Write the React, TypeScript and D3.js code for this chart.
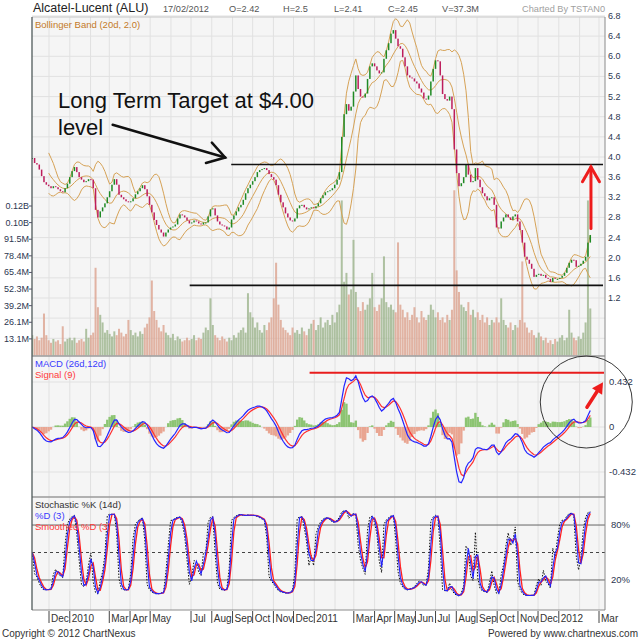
import { useEffect, useRef } from "react";
import * as d3 from "d3";

// ── data: one sample every 3.5 days, 6 Nov 2009 → 17 Feb 2012 ─────────
const SAMPLE_START = new Date(2009, 10, 6);
const SAMPLE_STEP_DAYS = 3.5;

const closes = [
  3.98, 3.88, 3.85, 3.75, 3.62, 3.5, 3.45, 3.42, 3.38, 3.42,
  3.4, 3.36, 3.32, 3.3, 3.38, 3.47, 3.6, 3.72, 3.8, 3.7,
  3.6, 3.55, 3.5, 3.52, 3.56, 3.55, 3.38, 2.95, 2.8, 2.92,
  3.0, 3.08, 3.2, 3.32, 3.45, 3.56, 3.45, 3.25, 3.2, 3.16,
  3.12, 3.1, 3.12, 3.18, 3.26, 3.32, 3.38, 3.44, 3.36, 3.22,
  3.05, 2.9, 2.75, 2.65, 2.56, 2.5, 2.42, 2.5, 2.56, 2.6,
  2.62, 2.66, 2.78, 2.86, 2.84, 2.8, 2.74, 2.68, 2.7, 2.74,
  2.72, 2.68, 2.66, 2.7, 2.7, 2.82, 2.96, 2.98, 2.84, 2.72,
  2.66, 2.64, 2.62, 2.56, 2.6, 2.76, 2.84, 2.92, 3.0, 3.05,
  3.15, 3.28, 3.38, 3.45, 3.52, 3.6, 3.7, 3.74, 3.76, 3.78,
  3.74, 3.66, 3.6, 3.55, 3.44, 3.25, 3.1, 3.0, 2.88, 2.8,
  2.74, 2.72, 2.78, 2.98, 3.04, 3.05, 3.0, 2.96, 2.98, 3.0,
  2.98, 3.02, 3.08, 3.18, 3.24, 3.3, 3.32, 3.34, 3.38, 3.45,
  3.55, 3.7, 4.4, 4.85, 5.05, 4.92, 5.0, 5.3, 5.62, 5.35,
  5.2, 5.18, 5.26, 5.55, 5.8, 5.86, 5.8, 5.72, 5.66, 5.68,
  5.95, 6.12, 6.26, 6.45, 6.52, 6.35, 6.2, 6.15, 5.98, 5.8,
  5.62, 5.58, 5.56, 5.5, 5.46, 5.36, 5.28, 5.16, 5.14, 5.22,
  5.5, 5.75, 5.92, 5.9, 5.62, 5.25, 5.15, 5.12, 5.2, 4.95,
  4.15, 3.68, 3.42, 3.48, 3.6, 3.85, 3.65, 3.5, 3.52, 3.78,
  3.55, 3.4, 3.28, 3.22, 3.14, 3.18, 3.2, 3.05, 2.6, 2.58,
  2.72, 2.8, 2.86, 2.8, 2.75, 2.82, 2.86, 2.72, 2.55, 2.3,
  2.02, 1.96, 1.88, 1.78, 1.62, 1.66, 1.68, 1.64, 1.66, 1.6,
  1.58, 1.52, 1.6, 1.58, 1.58, 1.6, 1.64, 1.7, 1.8, 1.9,
  1.96, 1.95, 1.82, 1.84, 1.88, 1.94, 2.02, 2.3, 2.45,
];

// volume, millions of shares
const volumes = [
  16, 13, 15, 12, 14, 33, 16, 12, 10, 13,
  11, 12, 9, 23, 11, 13, 14, 12, 14, 10,
  12, 13, 11, 21, 14, 16, 18, 69, 38, 32,
  26, 18, 20, 17, 15, 19, 16, 21, 18, 15,
  17, 28, 20, 16, 18, 15, 19, 17, 22, 25,
  30, 59, 35, 28, 22, 19, 24, 18, 16, 14,
  17, 12, 15, 13, 11, 12, 14, 12, 13, 16,
  12, 14, 13, 18, 22, 20, 45, 24, 16, 14,
  12, 15, 13, 11, 14, 12, 16, 14, 18, 20,
  22, 18, 49, 34, 30, 22, 26, 20, 18, 24,
  20, 26, 30, 45, 73, 40, 28, 22, 20, 18,
  16, 22, 18, 20, 17, 22, 19, 16, 21, 25,
  28, 20, 24, 30, 22, 26, 28, 24, 32, 26,
  34, 40, 122, 58, 65, 48, 52, 91, 50, 38,
  35, 42, 36, 40, 45, 65, 38, 35, 40, 45,
  78, 42, 38, 40, 36, 34, 89, 40, 36, 30,
  34, 28, 32, 38, 30, 26, 35, 30, 28, 32,
  40, 36, 30, 34, 28, 30, 26, 32, 28, 36,
  130, 67, 50, 40, 38, 35, 42, 32, 36, 30,
  34, 28, 32, 26, 30, 24, 28, 26, 30, 26,
  45, 28, 24, 22, 26, 20, 24, 22, 28, 74,
  26, 22, 18, 20, 16, 14, 18, 15, 12, 14,
  10, 12, 9, 13, 11, 14, 16, 12, 14, 36,
  18, 14, 12, 15, 13, 18, 26, 122, 37,
];

// Dec 2009 … Mar 2012, blank = month not labelled
const monthLabels = [
  "Dec", "2010", "", "Mar", "Apr", "May", "", "Jul", "Aug", "Sep", "Oct", "Nov", "Dec",
  "2011", "", "Mar", "Apr", "May", "Jun", "Jul", "Aug", "Sep", "Oct", "Nov", "Dec",
  "2012", "", "Mar",
];

const priceTicks = [6.8, 6.4, 6.0, 5.6, 5.2, 4.8, 4.4, 4.0, 3.6, 3.2, 2.8, 2.4, 2.0, 1.6, 1.2];
const priceGridOnly = [0.8, 0.4];
const volumeTicks = [13.07, 26.14, 39.21, 52.28, 65.35, 78.42, 91.49, 104.56, 117.63];
const volumeTickLabels = ["13.1M", "26.1M", "39.2M", "52.3M", "65.4M", "78.4M", "91.5M", "0.10B", "0.12B"];
const macdTicks = [0.432, 0, -0.432];
const macdTickLabels = ["0.432", "0", "-0.432"];
const stochTicks = [80, 20];
const stochTickLabels = ["80%", "20%"];

const headerTexts = ["17/02/2012", "O=2.42", "H=2.5", "L=2.41", "C=2.45", "V=37.3M"];

// drawn-in annotations (trend levels)
const targetLevels = [3.85, 1.45];
const targetStarts = [new Date(2010, 7, 30), new Date(2010, 5, 29)];
const targetEnd = new Date(2012, 2, 7);
const macdLevel = 0.52;
const macdLevelStart = new Date(2010, 11, 25);

const sampleDate = (i: number) => new Date(SAMPLE_START.getTime() + i * SAMPLE_STEP_DAYS * 864e5);

function ema(values: number[], period: number) {
  const a = 2 / (period + 1);
  const out: number[] = [];
  values.forEach((v, i) => out.push(i === 0 ? v : a * v + (1 - a) * out[i - 1]));
  return out;
}

const sma2 = (v: number[]) => v.map((d, i) => (i === 0 ? d : (d + v[i - 1]) / 2));

export default function App() {
  const svgRef = useRef<SVGSVGElement>(null);

  useEffect(() => {
    if (!svgRef.current) return;
    const svg = d3.select(svgRef.current);
    svg.selectAll("*").remove();

    const FONT = "'Liberation Sans', Arial, sans-serif";
    const L = 32, R = 605;
    const P_TOP = 17, V_BOT = 356, M_BOT = 497, S_BOT = 610;
    const perSample = 2.5;  // trading days per sample
    const HIST_GAIN = 2;    // histogram drawn enlarged, as on the source chart
    const DAY_RANGE = 0.015; // closes only: intraday high/low taken as ±1.5%

    const x = d3.scaleTime().domain([new Date(2009, 11, 1), new Date(2012, 2, 1)]).range([49, 599]);
    const yP = d3.scaleLinear().domain([1.2, 6.8]).range([298, 16]);
    const yV = d3.scaleLinear().domain([0, 117.63]).range([355.5, 206]);
    const yM = d3.scaleLinear().domain([-0.432, 0.432]).range([472, 382]);
    const yS = d3.scaleLinear().domain([0, 100]).range([598.3, 506.7]);

    const dates = closes.map((_, i) => sampleDate(i));

    // ── indicators ──────────────────────────────────────
    const bbN = Math.round(20 / perSample);
    const bb = closes.map((_, i) => {
      if (i < bbN - 1) return null;
      const w = closes.slice(i - bbN + 1, i + 1);
      const m = d3.mean(w)!;
      const sd = Math.sqrt(d3.mean(w, v => (v - m) ** 2)!);
      return { m, up: m + 2 * sd, lo: m - 2 * sd };
    });
    const fast = ema(closes, 12 / perSample);
    const slow = ema(closes, 26 / perSample);
    const macd = closes.map((_, i) => fast[i] - slow[i]);
    const signal = ema(macd, 9 / perSample);
    const hist = macd.map((v, i) => v - signal[i]);

    const kN = 6;
    const pctK = closes.map((c, i) => {
      const w = closes.slice(Math.max(0, i - kN + 1), i + 1);
      const lo = d3.min(w)! * (1 - DAY_RANGE), hi = d3.max(w)! * (1 + DAY_RANGE);
      return ((c - lo) / (hi - lo)) * 100;
    });
    const pctD = sma2(pctK);
    const smD = sma2(pctD);

    // ── frame ───────────────────────────────────────────
    const defs = svg.append("defs");
    const clip = (id: string, y0: number, y1: number) =>
      defs.append("clipPath").attr("id", id).append("rect")
        .attr("x", L).attr("y", y0).attr("width", R - L).attr("height", y1 - y0);
    clip("clipP", P_TOP, V_BOT);
    clip("clipM", V_BOT, M_BOT);
    clip("clipS", M_BOT, S_BOT);

    svg.append("rect").attr("x", L).attr("y", P_TOP).attr("width", R - L).attr("height", S_BOT - P_TOP)
      .attr("fill", "#f5f5f5");

    const months = d3.timeMonth.range(new Date(2009, 11, 1), new Date(2012, 2, 2));
    const grid = svg.append("g").attr("stroke", "#e1e1e1").attr("stroke-width", 1);
    months.forEach(m => {
      grid.append("line").attr("x1", x(m)).attr("x2", x(m)).attr("y1", P_TOP).attr("y2", S_BOT);
    });
    [...priceTicks, ...priceGridOnly].forEach(p => {
      grid.append("line").attr("x1", L).attr("x2", R).attr("y1", yP(p)).attr("y2", yP(p));
    });
    macdTicks.forEach(v => {
      grid.append("line").attr("x1", L).attr("x2", R).attr("y1", yM(v)).attr("y2", yM(v));
    });

    // ── volume ──────────────────────────────────────────
    const gP = svg.append("g").attr("clip-path", "url(#clipP)");
    volumes.forEach((v, i) => {
      const up = i === 0 || closes[i] >= closes[i - 1];
      gP.append("rect")
        .attr("x", x(dates[i]) - 1).attr("width", 2)
        .attr("y", yV(v)).attr("height", yV(0) - yV(v))
        .attr("fill", up ? "#9cb48c" : "#dca28e").attr("opacity", 0.8);
    });

    // ── bollinger ───────────────────────────────────────
    const bbIdx = d3.range(bbN - 1, closes.length);
    const bbLine = (key: "m" | "up" | "lo") =>
      d3.line<number>().x(i => x(dates[i])).y(i => yP(bb[i]![key]))(bbIdx);
    (["up", "m", "lo"] as const).forEach(k => {
      gP.append("path").attr("d", bbLine(k)).attr("fill", "none")
        .attr("stroke", "#d6a256").attr("stroke-width", 1);
    });

    // ── candles ─────────────────────────────────────────
    closes.forEach((c, i) => {
      const o = i === 0 ? c : closes[i - 1];
      const top = yP(Math.max(o, c)), bot = yP(Math.min(o, c));
      gP.append("rect")
        .attr("x", x(dates[i]) - 0.75).attr("width", 1.5)
        .attr("y", top).attr("height", Math.max(1, bot - top))
        .attr("fill", c >= o ? "#1f8a24" : "#bd1d5c");
    });

    // ── MACD ────────────────────────────────────────────
    const gM = svg.append("g").attr("clip-path", "url(#clipM)");
    hist.forEach((h, i) => {
      const hv = h * HIST_GAIN;
      gM.append("rect")
        .attr("x", x(dates[i]) - 1.2).attr("width", 2.4)
        .attr("y", Math.min(yM(hv), yM(0))).attr("height", Math.abs(yM(hv) - yM(0)))
        .attr("fill", h >= 0 ? "#8cc472" : "#e9a591");
    });
    const mLine = d3.line<number>().x((_, i) => x(dates[i])).y(v => yM(v));
    gM.append("path").attr("d", mLine(signal)).attr("fill", "none").attr("stroke", "#ff3030").attr("stroke-width", 1.2);
    gM.append("path").attr("d", mLine(macd)).attr("fill", "none").attr("stroke", "#2424ff").attr("stroke-width", 1.2);

    // ── stochastic ──────────────────────────────────────
    const gS = svg.append("g").attr("clip-path", "url(#clipS)");
    stochTicks.forEach(v => {
      gS.append("line").attr("x1", L).attr("x2", R).attr("y1", yS(v)).attr("y2", yS(v))
        .attr("stroke", "#666").attr("stroke-width", 1);
    });
    gS.append("line").attr("x1", L).attr("x2", R).attr("y1", yS(50)).attr("y2", yS(50))
      .attr("stroke", "#444").attr("stroke-dasharray", "3,3");
    const sLine = d3.line<number>().x((_, i) => x(dates[i])).y(v => yS(v));
    gS.append("path").attr("d", sLine(pctK)).attr("fill", "none").attr("stroke", "#111")
      .attr("stroke-width", 1).attr("stroke-dasharray", "1.5,1.5");
    gS.append("path").attr("d", sLine(smD)).attr("fill", "none").attr("stroke", "#ff2020").attr("stroke-width", 1.3);
    gS.append("path").attr("d", sLine(pctD)).attr("fill", "none").attr("stroke", "#2222ff").attr("stroke-width", 1.1);

    // ── borders ─────────────────────────────────────────
    const border = svg.append("g");
    border.append("line").attr("x1", L).attr("x2", R).attr("y1", P_TOP).attr("y2", P_TOP).attr("stroke", "#c8c8c8");
    border.append("line").attr("x1", L).attr("x2", R).attr("y1", V_BOT).attr("y2", V_BOT).attr("stroke", "#9a9a9a").attr("stroke-width", 1.5);
    border.append("line").attr("x1", L).attr("x2", R).attr("y1", M_BOT).attr("y2", M_BOT).attr("stroke", "#9a9a9a").attr("stroke-width", 1.5);
    border.append("line").attr("x1", L).attr("x2", R).attr("y1", S_BOT).attr("y2", S_BOT).attr("stroke", "#8a8a8a");
    border.append("line").attr("x1", L).attr("x2", L).attr("y1", P_TOP).attr("y2", S_BOT).attr("stroke", "#4f5a5a").attr("stroke-width", 1.3);
    border.append("line").attr("x1", R).attr("x2", R).attr("y1", P_TOP).attr("y2", S_BOT).attr("stroke", "#8a8a8a");

    // ── axis labels ─────────────────────────────────────
    const txt = (g: any, s: string, tx: number, ty: number, size: number, fill: string, anchor = "start") =>
      g.append("text").attr("x", tx).attr("y", ty).attr("font-size", size).attr("fill", fill)
        .attr("text-anchor", anchor).style("font-family", FONT).text(s);

    const axes = svg.append("g");
    priceTicks.forEach(p => txt(axes, p.toFixed(1), R + 3, yP(p) + 3, 9, "#2c3650"));
    volumeTicks.forEach((v, i) => {
      txt(axes, volumeTickLabels[i], L - 3, yV(v) + 3, 9, "#2c3650", "end");
      axes.append("line").attr("x1", L - 3).attr("x2", L).attr("y1", yV(v)).attr("y2", yV(v)).attr("stroke", "#556");
    });
    macdTicks.forEach((v, i) => txt(axes, macdTickLabels[i], R + 4, yM(v) + 3, 9.5, "#2c3650"));
    stochTicks.forEach((v, i) => txt(axes, stochTickLabels[i], R + 6, yS(v) + 3, 9.5, "#2c3650"));

    months.forEach((m, i) => {
      const lab = monthLabels[i];
      if (!lab) return;
      axes.append("line").attr("x1", x(m)).attr("x2", x(m)).attr("y1", S_BOT + 1).attr("y2", S_BOT + 13)
        .attr("stroke", "#444");
      txt(axes, lab, x(m) + 2, S_BOT + 12, 10, "#333");
    });

    // ── header & legends ────────────────────────────────
    txt(svg, "Alcatel-Lucent (ALU)", 33, 12, 12.5, "#222");
    const headerX = [163, 229, 283, 334, 388, 442];
    headerTexts.forEach((s, i) => txt(svg, s, headerX[i], 12, 9.2, "#555"));
    txt(svg, "Charted By TSTAN0", R, 12, 9.2, "#a0a0a0", "end");
    txt(svg, "Bollinger Band (20d, 2.0)", 35, 28, 9.5, "#c47a28");
    txt(svg, "MACD (26d,12d)", 35, 367, 9.5, "#3a3aff");
    txt(svg, "Signal (9)", 35, 378, 9.5, "#ff3a3a");
    txt(svg, "Stochastic %K (14d)", 35, 508, 9.5, "#333");
    txt(svg, "%D (3)", 35, 519, 9.5, "#3a3aff");
    txt(svg, "Smoothed %D (3)", 35, 530, 9.5, "#ff3a3a");
    txt(svg, "Copyright © 2012 ChartNexus", 2, 637, 10, "#333");
    txt(svg, "Powered by www.chartnexus.com", 638, 637, 10, "#333", "end");

    // ── hand-drawn annotations ─────────────────────────
    const ann = svg.append("g");
    targetLevels.forEach((lv, i) => {
      ann.append("line").attr("x1", x(targetStarts[i])).attr("x2", x(targetEnd))
        .attr("y1", yP(lv)).attr("y2", yP(lv)).attr("stroke", "#111").attr("stroke-width", 1.6);
    });
    ann.append("line").attr("x1", x(macdLevelStart)).attr("x2", x(targetEnd) + 1)
      .attr("y1", yM(macdLevel)).attr("y2", yM(macdLevel)).attr("stroke", "#e81c1c").attr("stroke-width", 2);

    txt(ann, "Long Term Target at $4.00", 58, 108, 22, "#111");
    txt(ann, "level", 58, 135, 22, "#111");

    const chevron = (x0: number, y0: number, x1: number, y1: number, len: number, deg: number, color: string, w: number) => {
      const a = Math.atan2(y1 - y0, x1 - x0) + Math.PI;
      const r = (deg * Math.PI) / 180;
      const p1 = [x1 + len * Math.cos(a + r), y1 + len * Math.sin(a + r)];
      const p2 = [x1 + len * Math.cos(a - r), y1 + len * Math.sin(a - r)];
      ann.append("line").attr("x1", x0).attr("y1", y0).attr("x2", x1).attr("y2", y1)
        .attr("stroke", color).attr("stroke-width", w).attr("stroke-linecap", "round");
      ann.append("path").attr("d", `M${p1[0]},${p1[1]}L${x1},${y1}L${p2[0]},${p2[1]}`)
        .attr("fill", "none").attr("stroke", color).attr("stroke-width", w)
        .attr("stroke-linecap", "round").attr("stroke-linejoin", "miter");
    };
    chevron(x(new Date(2010, 2, 6)), yP(4.64), x(new Date(2010, 7, 21)), yP(3.99), 20, 32, "#111", 2.5);
    chevron(x(new Date(2012, 1, 18)), yP(2.58), x(new Date(2012, 1, 18)), yP(3.8), 17, 30, "#ee1c1c", 3);

    // MACD arrow with solid head
    const ax0 = x(new Date(2012, 1, 12)), ay0 = yM(0.19);
    const ax1 = x(new Date(2012, 2, 7)), ay1 = yM(0.43);
    const ang = Math.atan2(ay1 - ay0, ax1 - ax0);
    const hb = [ax1 - 11 * Math.cos(ang), ay1 - 11 * Math.sin(ang)];
    ann.append("line").attr("x1", ax0).attr("y1", ay0).attr("x2", hb[0]).attr("y2", hb[1])
      .attr("stroke", "#ee1c1c").attr("stroke-width", 3.5).attr("stroke-linecap", "round");
    const perp = ang + Math.PI / 2;
    ann.append("path")
      .attr("d", `M${ax1},${ay1}L${hb[0] + 6 * Math.cos(perp)},${hb[1] + 6 * Math.sin(perp)}L${hb[0] - 6 * Math.cos(perp)},${hb[1] - 6 * Math.sin(perp)}Z`)
      .attr("fill", "#ee1c1c");

    ann.append("circle").attr("cx", x(new Date(2012, 1, 11))).attr("cy", yM(0.24)).attr("r", 46)
      .attr("fill", "none").attr("stroke", "#222").attr("stroke-width", 0.9);
  }, []);

  return (
    <div style={{ position: "absolute", left: 0, top: 0, background: "#fff" }}>
      <svg ref={svgRef} width={640} height={640} style={{ display: "block" }} />
    </div>
  );
}
